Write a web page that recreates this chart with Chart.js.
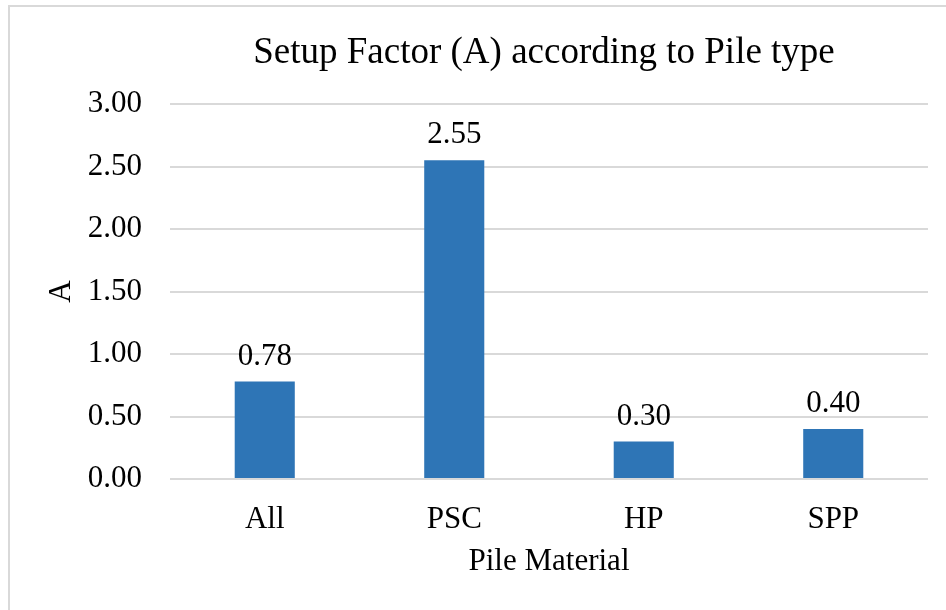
<!DOCTYPE html>
<html>
<head>
<meta charset="utf-8">
<script src="https://cdn.jsdelivr.net/npm/chart.js@4"></script>
<style>
  html, body { margin: 0; padding: 0; background: #fff; overflow: hidden; }
  #wrap { position: relative; width: 946px; height: 610px; }
  #frame { position: absolute; left: 8px; top: 5px; width: 960px; height: 640px; border: 2px solid #d9d9d9; box-sizing: border-box; }
  canvas { position: absolute; left: 0; top: 0; }
</style>
</head>
<body>
<div id="wrap">
  <div id="frame"></div>
  <canvas id="chart" width="946" height="610"></canvas>
</div>
<script>
const categories = ["All", "PSC", "HP", "SPP"];
const setupFactor = [0.78, 2.55, 0.30, 0.40];
const yTicks = [0, 0.5, 1, 1.5, 2, 2.5, 3];

const chartTitle = "Setup Factor (A) according to Pile type";
const xTitle = "Pile Material";
const yTitle = "A";

const FONT = "'Liberation Serif', 'Times New Roman', serif";
const TICK_SIZE = 31;

// titles and value labels drawn by hand so they sit where Excel put them
const labelsPlugin = {
    id: "labels",
    afterDatasetsDraw(chart) {
        const ctx = chart.ctx;
        const area = chart.chartArea;
        ctx.save();
        ctx.fillStyle = "#000";

        // values above bars
        ctx.font = TICK_SIZE + "px " + FONT;
        ctx.textAlign = "center";
        ctx.textBaseline = "alphabetic";
        const meta = chart.getDatasetMeta(0);
        meta.data.forEach((bar, i) => {
            ctx.fillText(setupFactor[i].toFixed(2), bar.x, bar.y - 17);
        });

        // chart title
        ctx.font = "37px " + FONT;
        ctx.textBaseline = "middle";
        ctx.fillText(chartTitle, 544, 53);

        // x axis title
        ctx.font = TICK_SIZE + "px " + FONT;
        ctx.fillText(xTitle, (area.left + area.right) / 2, 562);

        // y axis title
        ctx.translate(62, (area.top + area.bottom) / 2);
        ctx.rotate(-Math.PI / 2);
        ctx.fillText(yTitle, 0, 0);
        ctx.restore();
    }
};

new Chart(document.getElementById("chart"), {
    type: "bar",
    data: {
        labels: categories,
        datasets: [{
            data: setupFactor,
            backgroundColor: "#2e75b6",
            barPercentage: 1,
            categoryPercentage: 0.317
        }]
    },
    options: {
        responsive: false,
        animation: false,
        layout: { padding: { left: 0, right: 18, top: 104, bottom: 0 } },
        plugins: {
            legend: { display: false },
            tooltip: { enabled: false }
        },
        scales: {
            x: {
                grid: { display: false, drawTicks: false },
                border: { display: false },
                ticks: { color: "#000", padding: 22, font: { family: FONT, size: TICK_SIZE } },
                afterFit: s => { s.height = 131; }
            },
            y: {
                min: 0,
                max: 3,
                afterBuildTicks: s => { s.ticks = yTicks.map(v => ({ value: v })); },
                grid: { color: "#d9d9d9", lineWidth: 2, drawTicks: false },
                border: { display: false },
                ticks: {
                    color: "#000",
                    padding: 28,
                    font: { family: FONT, size: TICK_SIZE },
                    callback: v => Number(v).toFixed(2)
                },
                afterFit: s => { s.width = 170; }
            }
        }
    },
    plugins: [labelsPlugin]
});
</script>
</body>
</html>
